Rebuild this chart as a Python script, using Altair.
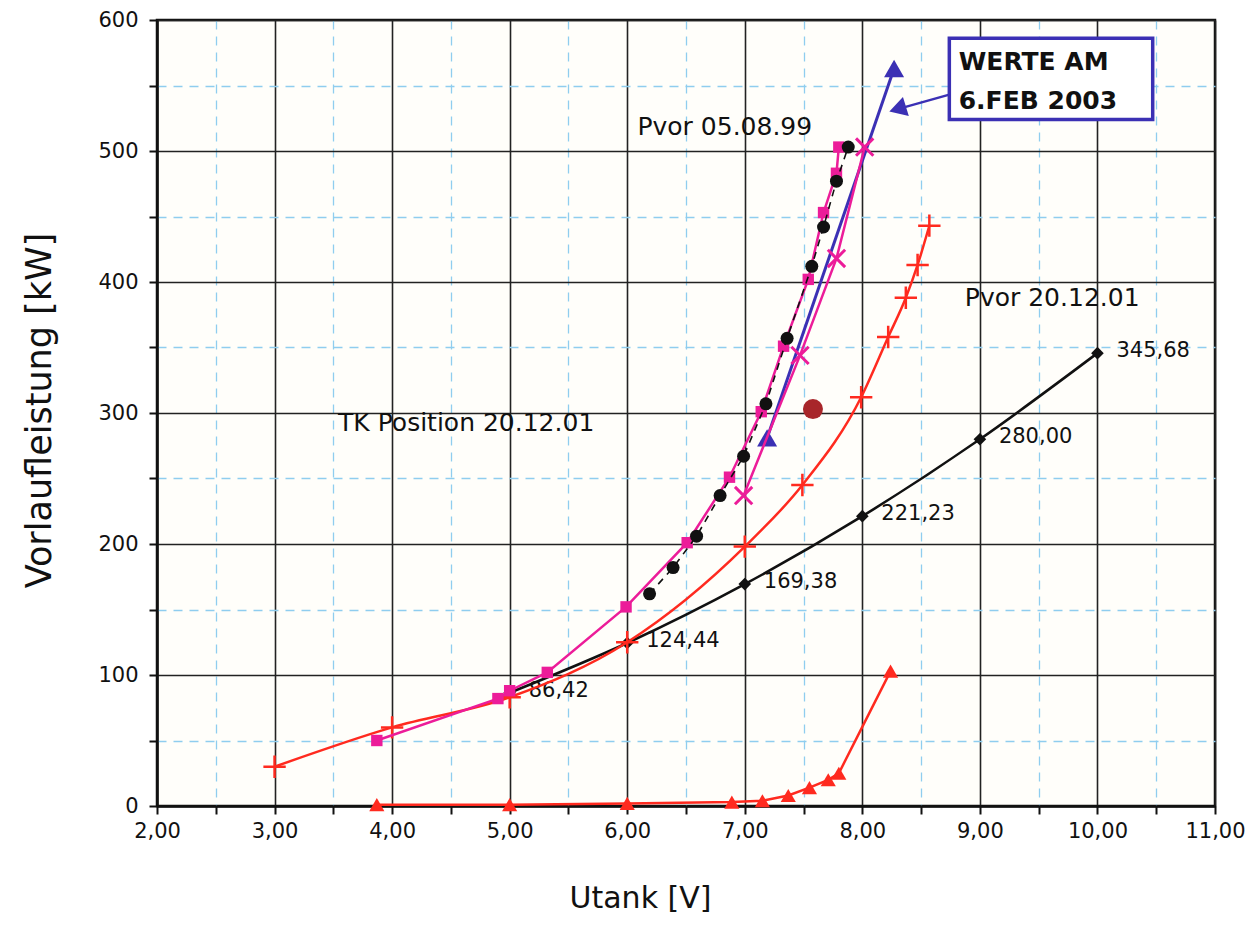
import altair as alt
import pandas as pd

# ---------------- data ----------------
# black solid curve "Pvor 20.12.01" with value labels
pvor_x = [5.0, 6.0, 7.0, 8.0, 9.0, 10.0]
pvor_y = [86.42, 124.44, 169.38, 221.23, 280.00, 345.68]
pvor_lbl = ["86,42", "124,44", "169,38", "221,23", "280,00", "345,68"]

# red curve with "+" markers
plus_x = [3.0, 4.0, 5.0, 6.0, 7.0, 7.49, 7.99, 8.22, 8.37, 8.47, 8.57]
plus_y = [30, 60, 83, 125, 198, 245, 312, 358, 388, 413, 443]

# red curve with triangle markers (bottom)
rtri_x = [3.87, 5.0, 6.0, 6.89, 7.15, 7.37, 7.55, 7.71, 7.80, 8.24]
rtri_y = [1, 1, 2, 3, 4, 8, 14, 20, 25, 103]

# magenta curve with square markers
sq_x = [3.87, 4.90, 5.0, 5.32, 5.99, 6.51, 6.87, 7.14, 7.33, 7.54, 7.67, 7.78, 7.80]
sq_y = [50, 82, 88, 102, 152, 201, 251, 301, 351, 402, 453, 483, 503]

# black dashed curve with circles "Pvor 05.08.99"
dot_x = [6.19, 6.39, 6.59, 6.79, 6.99, 7.18, 7.36, 7.57, 7.67, 7.78, 7.88]
dot_y = [162, 182, 206, 237, 267, 307, 357, 412, 442, 477, 503]

# magenta curve with x markers
xm_x = [6.99, 7.47, 7.78, 8.02]
xm_y = [237, 344, 418, 503]

# blue line (values of 6 Feb 2003)
blue_x = [7.19, 8.27]
blue_y = [281, 563]

# single dark-red point
red_pt_x = [7.58]
red_pt_y = [303]

# annotation box + arrow
box_x, box_x2 = [8.74], [10.47]
box_y, box_y2 = [586], [524]
box_text = ["WERTE AM", "6.FEB 2003"]
box_text_x = [8.82, 8.82]
box_text_y = [568, 538]
arrow_x = [8.74, 8.30]
arrow_y = [543, 532]

# free texts
note_text = ["Pvor 05.08.99", "Pvor 20.12.01", "TK Position 20.12.01"]
note_x = [6.83, 9.615, 4.63]
note_y = [518, 388, 292]

# axis ticks
x_ticks = [2.0, 2.5, 3.0, 3.5, 4.0, 4.5, 5.0, 5.5, 6.0, 6.5, 7.0, 7.5, 8.0,
           8.5, 9.0, 9.5, 10.0, 10.5, 11.0]
y_ticks = [0, 50, 100, 150, 200, 250, 300, 350, 400, 450, 500, 550, 600]

# ---------------- styling ----------------
FONT = "DejaVu Sans"
RED = "#ff2a1f"
MAG = "#ec1c99"
BLUE = "#3b30b4"
BLACK = "#111111"

xscale = alt.Scale(domain=[2, 11], nice=False, zero=False)
yscale = alt.Scale(domain=[0, 600], nice=False)

xaxis = alt.Axis(
    values=x_ticks,
    labelExpr="datum.value % 1 === 0 ? replace(format(datum.value, '.2f'), '.', ',') : ''",
    title="Utank [V]",
    titleFontSize=30, titleFontWeight="normal", titleFont=FONT, titleColor=BLACK,
    titlePadding=42, titleX=483,
    labelFont=FONT, labelFontSize=21, labelColor=BLACK, labelPadding=6,
    labelFlush=False, labelOverlap=False,
    tickSize=8, tickWidth=2, tickColor=BLACK,
    domainColor=BLACK, domainWidth=2.5,
    grid=True,
    gridColor={"condition": {"test": "datum.value % 1 === 0", "value": "#222222"}, "value": "#8fcdef"},
    gridDash={"condition": {"test": "datum.value % 1 === 0", "value": [1, 0]}, "value": [9, 7]},
    gridWidth={"condition": {"test": "datum.value % 1 === 0", "value": 1.6}, "value": 1.3},
)
yaxis = alt.Axis(
    values=y_ticks,
    labelExpr="datum.value % 100 === 0 ? format(datum.value, 'd') : ''",
    title="Vorlaufleistung [kW]",
    titleFontSize=35, titleFontWeight="normal", titleFont=FONT, titleColor=BLACK,
    titlePadding=40, titleY=390,
    labelFont=FONT, labelFontSize=21, labelColor=BLACK, labelPadding=11,
    labelFlush=False, labelOverlap=False,
    tickSize=8, tickWidth=2, tickColor=BLACK,
    domainColor=BLACK, domainWidth=2.5,
    grid=True,
    gridColor={"condition": {"test": "datum.value % 100 === 0", "value": "#222222"}, "value": "#8fcdef"},
    gridDash={"condition": {"test": "datum.value % 100 === 0", "value": [1, 0]}, "value": [9, 7]},
    gridWidth={"condition": {"test": "datum.value % 100 === 0", "value": 1.6}, "value": 1.3},
)


def base(df):
    return alt.Chart(df).encode(
        x=alt.X("x:Q", scale=xscale, axis=xaxis),
        y=alt.Y("y:Q", scale=yscale, axis=yaxis),
    )


def frame(xs, ys, **extra):
    d = {"x": xs, "y": ys}
    d.update(extra)
    return pd.DataFrame(d)


PLUS = "M-1,0L1,0M0,-1L0,1"
XSHAPE = "M-1,-1L1,1M-1,1L1,-1"

layers = []

# red triangles (bottom)
d = frame(rtri_x, rtri_y)
layers.append(base(d).mark_line(color=RED, strokeWidth=2.5))
layers.append(base(d).mark_point(shape="triangle-up", filled=True, color=RED, size=230, opacity=1))

# black solid Pvor 20.12.01
d = frame(pvor_x, pvor_y, lbl=pvor_lbl)
layers.append(base(d).mark_line(color=BLACK, strokeWidth=2.6, interpolate="monotone"))
layers.append(base(d).mark_point(shape="diamond", filled=True, color=BLACK, size=160, opacity=1))
layers.append(base(d).mark_text(align="left", baseline="middle", dx=19, dy=-2,
                                font=FONT, fontSize=21, color=BLACK).encode(text="lbl:N"))

# red "+" curve
d = frame(plus_x, plus_y)
layers.append(base(d).mark_line(color=RED, strokeWidth=2.5, interpolate="monotone"))
layers.append(base(d).mark_point(shape=PLUS, filled=False, color=RED, size=500, strokeWidth=2.5, opacity=1))

# magenta squares
d = frame(sq_x, sq_y)
layers.append(base(d).mark_line(color=MAG, strokeWidth=2.5))
layers.append(base(d).mark_point(shape="square", filled=True, color=MAG, size=130, opacity=1))

# black dashed circles
d = frame(dot_x, dot_y)
layers.append(base(d).mark_line(color=BLACK, strokeWidth=1.6, strokeDash=[7, 6]))
layers.append(base(d).mark_point(shape="circle", filled=True, color=BLACK, size=169, opacity=1))

# blue line
d = frame(blue_x, blue_y)
layers.append(base(d).mark_line(color=BLUE, strokeWidth=3))
layers.append(base(d).mark_point(shape="triangle-up", filled=True, color=BLUE, size=400, opacity=1))

# magenta x curve
d = frame(xm_x, xm_y)
layers.append(base(d).mark_line(color=MAG, strokeWidth=2.5))
layers.append(base(d).mark_point(shape=XSHAPE, filled=False, color=MAG, size=300, strokeWidth=3, opacity=1))

# dark red point
d = frame(red_pt_x, red_pt_y)
layers.append(base(d).mark_point(shape="circle", filled=True, color="#a8262a", size=400, opacity=1))

# arrow from box
d = frame(arrow_x, arrow_y)
layers.append(base(d).mark_line(color=BLUE, strokeWidth=2.5))
layers.append(base(frame(arrow_x[1:], arrow_y[1:])).mark_point(
    shape="triangle-up", filled=True, color=BLUE, size=400, angle=253, opacity=1))

# box
d = pd.DataFrame({"x": box_x, "x2": box_x2, "y": box_y, "y2": box_y2})
layers.append(base(d).mark_rect(fill="white", stroke=BLUE, strokeWidth=3.5).encode(
    x2="x2:Q", y2="y2:Q"))
d = frame(box_text_x, box_text_y, t=box_text)
layers.append(base(d).mark_text(align="left", baseline="middle", font=FONT, fontSize=25,
                                fontWeight="bold", color=BLACK).encode(text="t:N"))

# free notes
d = frame(note_x, note_y, t=note_text)
layers.append(base(d).mark_text(align="center", baseline="middle", font=FONT, fontSize=25,
                                color=BLACK).encode(text="t:N"))

chart = alt.layer(*layers).properties(
    width=1058, height=786,
    autosize=alt.AutoSizeParams(type="none"),
    padding={"left": 157, "top": 20, "right": 35, "bottom": 128},
    background="white",
).configure_view(stroke=BLACK, strokeWidth=2.5, fill="#fffefa")

chart.save("out.html", embed_options={"renderer": "svg", "actions": False})
